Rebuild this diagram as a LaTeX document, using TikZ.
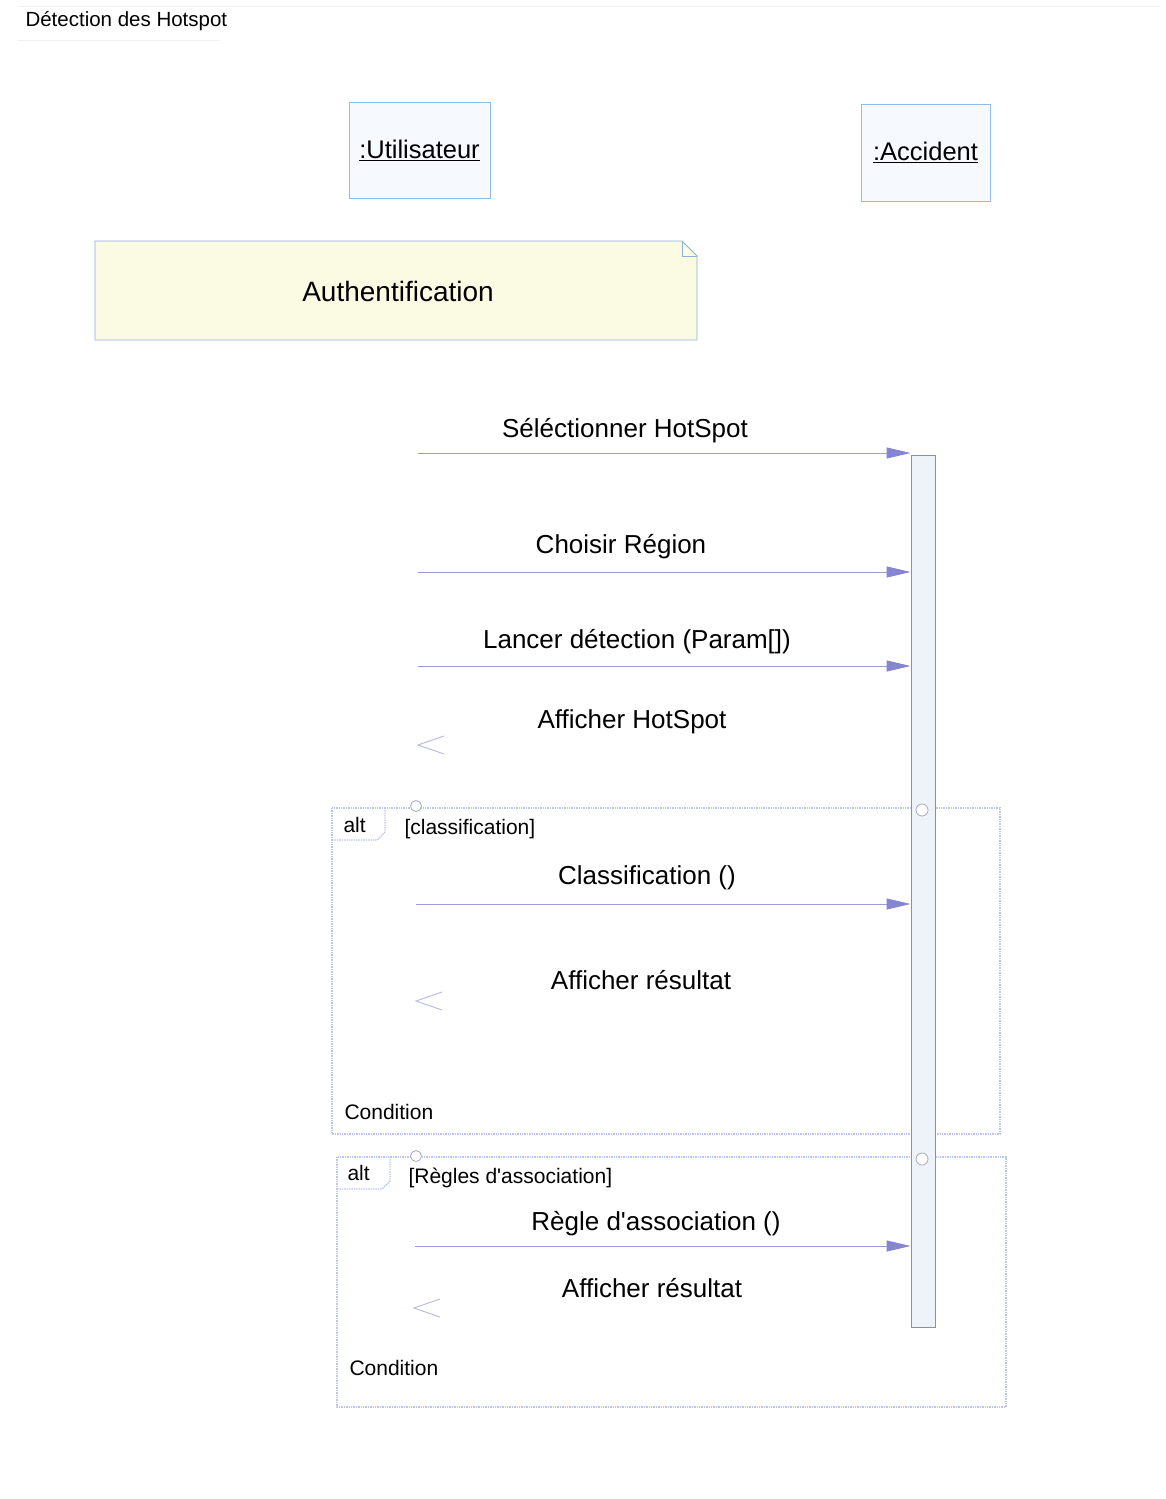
\documentclass[tikz,border=0pt]{standalone}
\usepackage{fontspec}
\setmainfont{Liberation Sans}
\usetikzlibrary{arrows.meta,calc}
\definecolor{boxline}{HTML}{8FBDE6}
\definecolor{boxfill}{HTML}{F6F9FD}
\definecolor{notefill}{HTML}{FBFBE4}
\definecolor{noteline}{HTML}{8FB0D8}
\definecolor{barline}{HTML}{7F93BA}
\definecolor{barfill}{HTML}{EEF3FA}
\definecolor{msgline}{HTML}{9C9CD4}
\definecolor{headfill}{HTML}{8585D2}
\definecolor{frameline}{HTML}{BCC6EA}
\definecolor{retline}{HTML}{B8B8E2}
\tikzset{
  objbox/.style={draw=boxline, fill=boxfill, line width=0.9pt, inner sep=0pt},
  msgtext/.style={font=\fontsize{26}{30}\selectfont, anchor=center},
  smalltext/.style={font=\fontsize{21}{25}\selectfont, anchor=west},
  msg/.style={draw=msgline, line width=0.9pt, -{Triangle[length=24pt,width=11pt,fill=headfill,color=headfill]}},
  retarrow/.style={draw=retline, line width=0.9pt},
  altframe/.style={draw=frameline, line width=1.4pt, densely dotted},
  gatecircle/.style={draw=frameline!60!gray, line width=0.8pt, circle, minimum size=11pt, inner sep=0pt, fill=white},
}
\begin{document}
\begin{tikzpicture}[x=1pt,y=-1pt]
\useasboundingbox (0,0) rectangle (1166,1499);
\fill[white] (0,0) rectangle (1166,1499);
% faint diagram frame lines
\draw[gray!12, line width=0.8pt] (18,6) -- (1160,6);
\draw[gray!12, line width=0.8pt] (18,40) -- (220,40);
\node[anchor=west, font=\fontsize{20.5}{24}\selectfont] (title) at (22,21) {Détection des Hotspot};

% lifeline heads
\node[objbox, minimum width=141pt, minimum height=96pt, font=\fontsize{25.5}{30}\selectfont] (user) at (419.5,150) {\underline{:Utilisateur}};
\node[objbox, minimum width=129pt, minimum height=97pt, font=\fontsize{25.5}{30}\selectfont] (acc) at (925.5,152.5) {\underline{:Accident}};

% note
\draw[draw=noteline, fill=notefill, line width=0.9pt] (95,241) -- (682,241) -- (697,256) -- (697,340) -- (95,340) -- cycle;
\draw[draw=noteline, line width=0.9pt] (682,241) -- (682,256) -- (697,256);
\node[font=\fontsize{28}{32}\selectfont] (auth) at (398,291) {Authentification};

% alt frames (drawn before the activation bar)
\draw[altframe] (332,808) rectangle (1000,1134);
\draw[altframe] (332,840) -- (377,840) -- (385,832) -- (385,808);
\draw[altframe] (337,1157) rectangle (1006,1407);
\draw[altframe] (337,1189) -- (382,1189) -- (390,1181) -- (390,1157);

% activation bar
\node[draw=barline, fill=barfill, line width=0.9pt, minimum width=24pt, minimum height=872pt, inner sep=0pt] (bar) at (923,891) {};

% gate circles
\node[gatecircle] (g1) at (416,806) {};
\node[gatecircle, minimum size=12pt] (g2) at (922,810) {};
\node[gatecircle] (g3) at (416,1156) {};
\node[gatecircle, minimum size=12pt] (g4) at (922,1159) {};

% messages
\coordinate (s1) at (418,453);
\coordinate (s2) at (418,572);
\coordinate (s3) at (418,666);
\coordinate (s4) at (416,904);
\coordinate (s5) at (415,1246);
\node[msgtext] (t1) at (625,431) {Séléctionner HotSpot};
\draw[msg] (s1) -- (s1 -| bar.west);
\node[msgtext] (t2) at (621,547) {Choisir Région};
\draw[msg] (s2) -- (s2 -| bar.west);
\node[msgtext] (t3) at (637,642) {Lancer détection (Param[])};
\draw[msg] (s3) -- (s3 -| bar.west);
\node[msgtext] (t4) at (632,722) {Afficher HotSpot};
\coordinate (r1) at (418,745);
\draw[retarrow] ($(r1)+(26,-9)$) -- (r1) -- ($(r1)+(26,9)$);

\node[smalltext] (alt1) at (340,825) {alt};
\node[smalltext] (guard1) at (401,829) {[classification]};
\node[msgtext] (t5) at (647,878) {Classification ()};
\draw[msg] (s4) -- (s4 -| bar.west);
\node[msgtext] (t6) at (641,980) {Afficher résultat};
\coordinate (r2) at (416,1001);
\draw[retarrow] ($(r2)+(26,-9)$) -- (r2) -- ($(r2)+(26,9)$);
\node[smalltext] (cond1) at (341,1112) {Condition};

\node[smalltext] (alt2) at (344,1173) {alt};
\node[smalltext] (guard2) at (405,1178) {[Règles d\textquotesingle association]};
\node[msgtext] (t7) at (656,1224) {Règle d\textquotesingle association ()};
\draw[msg] (s5) -- (s5 -| bar.west);
\node[msgtext] (t8) at (652,1288) {Afficher résultat};
\coordinate (r3) at (414,1308);
\draw[retarrow] ($(r3)+(26,-9)$) -- (r3) -- ($(r3)+(26,9)$);
\node[smalltext] (cond2) at (346,1368) {Condition};
\end{tikzpicture}
\end{document}
